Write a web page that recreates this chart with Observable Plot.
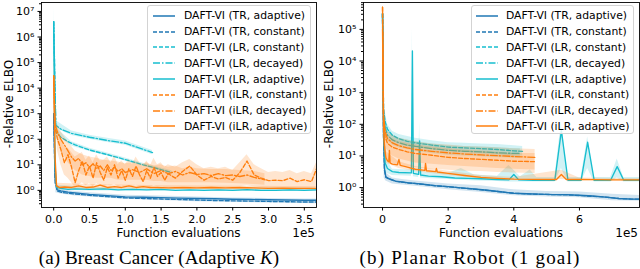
<!DOCTYPE html>
<html><head><meta charset="utf-8">
<script src="https://cdn.jsdelivr.net/npm/d3@7"></script>
<script src="https://cdn.jsdelivr.net/npm/@observablehq/plot@0.6"></script>
<style>
body{margin:0;background:#fff;}
#wrap{position:relative;width:640px;height:269px;font-family:"DejaVu Sans",sans-serif;color:#000;overflow:hidden;background:#fff}
.panel{position:absolute;top:0;width:320px;height:240px}
.lbl{position:absolute;font-size:12px;white-space:nowrap;line-height:12px}
.ylbl{position:absolute;font-size:12px;white-space:nowrap;line-height:12px;transform:translate(-50%,-50%) rotate(-90deg)}
.cap{position:absolute;font-family:"Liberation Serif",serif;font-size:19px;white-space:nowrap;transform:translate(-50%,-50%)}
.legend{position:absolute;box-sizing:border-box;border:1px solid #d3d3d3;border-radius:3px;background:rgba(255,255,255,0.85);font-size:10.8px;padding-top:2px}
.row{height:15.8px;display:flex;align-items:center;white-space:nowrap}
.row svg{flex:none}
</style></head>
<body><div id="wrap"></div>
<script>
// ---------- categories / legend ----------
const seriesNames = ["DAFT-VI (TR, adaptive)","DAFT-VI (TR, constant)","DAFT-VI (LR, constant)","DAFT-VI (LR, decayed)","DAFT-VI (LR, adaptive)","DAFT-VI (iLR, constant)","DAFT-VI (iLR, decayed)","DAFT-VI (iLR, adaptive)"];
const seriesColors = ["#1f77b4","#1f77b4","#17becf","#17becf","#17becf","#ff7f0e","#ff7f0e","#ff7f0e"];
const seriesStyles = ["solid","dashed","dashed","dashdot","solid","dashed","dashdot","solid"];
const captions = ["(a) Breast Cancer (Adaptive ", "(b) Planar Robot (1 goal)"];
const xLabel = "Function evaluations";
const yLabel = "-Relative ELBO";
const xOffsetLabel = "1e5";
const xTicksA = [0,0.5,1,1.5,2,2.5,3,3.5];
const xTicksB = [0,2,4,6];
const yDecadesA = [0,1,2,3,4,5,6,7];
const yDecadesB = [0,1,2,3,4,5];

// ---------- panel (a) data: [x (1e5 evals), value] ----------
const aTRadaptive = [[0,1e3],[0.02,3],[0.05,1.05],[0.1,0.95],[0.2,0.86],[0.3,0.8],[0.5,0.7],[0.75,0.62],[1.0,0.56],[1.25,0.54],[1.5,0.52],[1.75,0.5],[2.0,0.48],[2.25,0.47],[2.5,0.45],[2.75,0.44],[3.0,0.43],[3.25,0.42],[3.5,0.41],[3.67,0.41]];
const aTRconstant = [[0,1e3],[0.02,2],[0.05,0.95],[0.1,0.85],[0.2,0.77],[0.3,0.72],[0.5,0.64],[0.75,0.57],[1.0,0.51],[1.25,0.48],[1.5,0.46],[1.75,0.44],[2.0,0.42],[2.25,0.4],[2.5,0.39],[2.75,0.38],[3.0,0.37],[3.25,0.36],[3.5,0.35],[3.67,0.35]];
const aLRconstant = [[0,4e6],[0.03,200],[0.1,120],[0.2,80],[0.3,60],[0.5,38],[0.75,25],[1.0,16],[1.25,10],[1.5,6.5],[1.65,5]];
const aLRdecayed = [[0,4e6],[0.03,350],[0.1,250],[0.25,170],[0.5,120],[0.75,90],[1.0,70],[1.2,45],[1.38,30]];
const aLRadaptive = [[0,4e6],[0.02,8],[0.04,1.3],[0.1,1.2],[0.2,1.1],[0.3,1.15],[0.5,1.1],[0.7,1.15],[0.9,1.05],[1.1,1.1],[1.3,1.05],[1.5,1.1],[1.7,1.0],[1.9,1.05],[2.1,1.0],[2.3,1.05],[2.5,1.0],[2.7,1.07],[2.9,1.0],[3.1,1.0],[3.3,1.05],[3.5,1.0],[3.67,1.05]];
const aiLRconstant = [[0,3e4],[0.02,300],[0.05,110],[0.1,40],[0.15,12],[0.2,25],[0.25,8],[0.3,2],[0.35,6],[0.4,14],[0.45,4],[0.5,9],[0.55,3],[0.6,12],[0.65,5],[0.7,2.5],[0.75,8],[0.8,4],[0.85,10],[0.9,3],[0.95,6],[1.0,2.5],[1.05,7],[1.1,3.5],[1.15,9],[1.2,4],[1.25,2.2],[1.3,6],[1.35,3],[1.4,8],[1.45,3.5],[1.5,5],[1.55,2.5],[1.6,4.5],[1.7,3],[1.8,5.5],[1.9,9],[2.0,4],[2.1,2.5],[2.2,3.5],[2.3,2.8],[2.4,3.2],[2.5,2.5],[2.6,5],[2.7,14],[2.8,4],[2.9,3],[3.0,2.4],[3.1,2.5],[3.2,2.4],[3.3,3],[3.4,2.2],[3.5,2.6],[3.6,2.2],[3.67,7]];
const aiLRdecayed = [[0,3e4],[0.02,400],[0.05,200],[0.1,100],[0.15,60],[0.2,35],[0.25,20],[0.3,14],[0.35,18],[0.4,10],[0.45,12],[0.5,8],[0.55,11],[0.6,7],[0.65,9],[0.7,6],[0.75,10],[0.8,6],[0.85,8],[0.9,5.5],[0.95,7],[1.0,5],[1.1,6.5],[1.2,5],[1.3,7],[1.4,4.5],[1.5,6],[1.6,4.5],[1.7,5.5],[1.8,4],[1.9,5],[2.0,4.2],[2.1,4.5],[2.2,3.8],[2.3,4.5],[2.4,3.8],[2.5,4],[2.6,3.5],[2.7,4],[2.8,3.2],[2.9,2.8],[2.95,2.6]];
const aiLRadaptive = [[0,3e4],[0.02,20],[0.04,1.5],[0.08,1.3],[0.15,1.35],[0.25,1.3],[0.35,1.5],[0.45,1.3],[0.55,1.35],[0.65,1.6],[0.75,1.3],[0.85,1.4],[0.95,1.3],[1.05,1.5],[1.15,1.3],[1.25,1.4],[1.35,1.3],[1.45,1.3],[1.6,1.25],[1.8,1.3],[2.0,1.25],[2.2,1.3],[2.4,1.25],[2.6,1.3],[2.8,1.25],[3.0,1.2],[3.2,1.22],[3.4,1.2],[3.67,1.2]];

// ---------- panel (a) bands: [x, low, high] ----------
const aBandTR = [[0.03,0.8,1.3],[0.1,0.72,1.05],[0.3,0.6,0.9],[0.5,0.55,0.8],[1.0,0.45,0.65],[1.5,0.4,0.6],[2.0,0.36,0.55],[2.5,0.34,0.5],[3.0,0.32,0.48],[3.5,0.31,0.46],[3.67,0.3,0.46]];
const aBandLRconstant = [[0.05,150,260],[0.25,55,80],[0.5,33,44],[0.75,22,29],[1.0,14,18.5],[1.25,8.8,11.5],[1.5,5.7,7.5],[1.65,4.4,5.8]];
const aBandLRdecayed = [[0.05,250,500],[0.25,140,210],[0.5,100,145],[0.75,75,110],[1.0,58,85],[1.2,37,55],[1.38,25,36]];
const aBandLRadaptive = [[0,3e5,1.8e7],[0.02,3,30],[0.05,1.0,1.6],[0.5,0.95,1.3],[1.5,0.95,1.25],[2.5,0.9,1.2],[3.67,0.9,1.2]];
const aBandiLRconstant = [[0.05,40,300],[0.1,10,120],[0.15,4,50],[0.2,3,45],[0.25,2,30],[0.3,1.3,20],[0.35,1.5,25],[0.4,2,30],[0.45,1.5,15],[0.5,1.8,22],[0.55,1.4,12],[0.6,1.8,25],[0.65,1.5,14],[0.7,1.3,15],[0.75,1.6,20],[0.8,1.5,12],[0.85,1.7,22],[0.9,1.4,10],[0.95,1.5,14],[1.0,1.3,10],[1.05,1.5,16],[1.1,1.4,10],[1.15,1.6,20],[1.2,1.4,12],[1.25,1.3,8],[1.3,1.4,14],[1.35,1.3,9],[1.4,1.5,18],[1.45,1.4,10],[1.5,1.4,12],[1.55,1.3,8],[1.6,1.3,10],[1.7,1.3,8],[1.8,1.4,12],[1.9,1.3,16],[2.0,1.3,10],[2.1,1.3,7],[2.2,1.3,8],[2.3,1.3,7],[2.4,1.3,8],[2.5,1.3,6],[2.6,1.4,12],[2.7,1.5,25],[2.8,1.4,10],[2.9,1.3,7],[3.0,1.2,5],[3.1,1.2,5.5],[3.2,1.2,5],[3.3,1.2,6],[3.4,1.2,4.5],[3.5,1.2,5.5],[3.6,1.2,4.5],[3.67,1.3,12]];
const aBandiLRdecayed = [[0.05,80,400],[0.1,40,200],[0.2,12,80],[0.3,6,35],[0.4,4,25],[0.5,3.5,20],[0.6,3,18],[0.7,3,15],[0.8,3,14],[0.9,2.5,13],[1.0,2.5,11],[1.1,2.5,12],[1.2,2.5,10],[1.3,2.5,12],[1.4,2.2,9],[1.5,2.2,10],[1.6,2,8],[1.7,2,9],[1.8,2,7],[1.9,2,8],[2.0,2,7],[2.2,2,6.5],[2.4,1.9,6.5],[2.6,1.8,6],[2.8,1.7,5.5],[2.95,1.6,4.5]];
const aBandiLRadaptive = [[0,1e3,3e5],[0.02,3,100],[0.05,1.1,1.9],[0.5,1.1,1.7],[1.5,1.1,1.5],[2.5,1.05,1.45],[3.67,1.05,1.4]];

// ---------- panel (b) data ----------
const bTRadaptive = [[0,3e5],[0.03,50],[0.06,4],[0.1,2.2],[0.2,1.9],[0.4,1.6],[0.6,1.5],[0.8,1.4],[1.0,1.35],[1.3,1.25],[1.6,1.15],[2.0,1.07],[2.4,0.98],[2.8,0.9],[3.2,0.82],[3.6,0.74],[4.0,0.66],[4.4,0.64],[4.8,0.62],[5.2,0.6],[5.6,0.6],[6.0,0.57],[6.4,0.54],[6.8,0.5],[7.2,0.45],[7.6,0.43],[7.83,0.43]];
const bTRconstant = [[0,3e5],[0.03,40],[0.06,3.5],[0.1,2.1],[0.2,1.85],[0.4,1.58],[0.6,1.48],[0.8,1.39],[1.0,1.34],[1.3,1.24],[1.6,1.14],[2.0,1.06],[2.4,0.97],[2.8,0.89],[3.2,0.81],[3.6,0.73],[4.0,0.66],[4.4,0.63],[4.8,0.61],[5.2,0.6],[5.6,0.59],[6.0,0.56],[6.4,0.53],[6.8,0.5],[7.2,0.45],[7.6,0.43],[7.83,0.43]];
const bLRconstant = [[0,3.2e5],[0.03,300],[0.08,120],[0.15,70],[0.3,45],[0.5,35],[0.75,29],[1.0,26],[1.5,22],[2.0,19],[2.5,18],[3.0,17],[3.5,16],[4.0,14.5],[4.27,14]];
const bLRdecayed = [[0,3.2e5],[0.03,200],[0.08,80],[0.15,45],[0.3,32],[0.5,26],[0.75,22],[1.0,20],[1.5,17],[2.0,15],[2.5,14],[3.0,13.5],[3.5,12.5],[4.0,12],[4.2,12]];
const bLRadaptive = [[0,3.2e5],[0.03,100],[0.08,6],[0.15,4],[0.3,3.2],[0.5,3.0],[0.88,2.9],[0.91,2.1e4],[0.94,2.8],[1.1,2.6],[1.13,30],[1.16,2.5],[1.4,2.3],[1.8,2.2],[2.2,2.0],[2.6,1.95],[3.0,1.9],[3.5,1.8],[3.85,1.75],[4.0,2.6],[4.15,1.75],[4.6,1.7],[5.25,1.7],[5.45,63],[5.65,1.7],[6.05,1.7],[6.25,27],[6.45,1.7],[6.95,1.7],[7.15,4.6],[7.35,1.7],[7.83,1.7]];
const biLRconstant = [[0,5e5],[0.03,150],[0.08,40],[0.15,25],[0.3,19],[0.5,16],[0.75,13.5],[1.0,12],[1.5,10.5],[2.0,9],[2.5,8.3],[3.0,7.8],[3.5,7.3],[4.0,6.8],[4.65,6.6]];
const biLRdecayed = [[0,5e5],[0.03,200],[0.08,60],[0.15,35],[0.3,26],[0.5,21],[0.75,18],[1.0,16],[1.5,14],[2.0,12.5],[2.5,11.5],[3.0,10.8],[3.5,10.2],[4.0,9.6],[4.65,9]];
const biLRadaptive = [[0,1e5],[0.03,80],[0.06,20],[0.1,9],[0.15,7],[0.19,6.5],[0.21,15],[0.23,6],[0.3,5.5],[0.45,5.2],[0.5,7.8],[0.54,5],[0.7,4.6],[1.0,3.8],[1.29,3.5],[1.31,5.8],[1.34,3.4],[1.62,3.2],[1.64,4.0],[1.67,3.1],[2.0,2.8],[2.5,2.4],[3.0,2.1],[3.5,1.95],[4.0,1.85],[4.5,1.82],[5.3,1.8],[5.45,2.6],[5.6,1.8],[6.0,1.8],[6.5,1.78],[7.0,1.76],[7.83,1.75]];

// ---------- panel (b) bands ----------
const bBandTR = [[0.05,2,8],[0.1,1.6,3],[0.3,1.3,2.0],[0.6,1.2,1.8],[1.0,1.1,1.6],[2.0,0.85,1.3],[3.0,0.7,1.15],[4.0,0.55,0.85],[5.0,0.5,0.75],[6.0,0.48,0.72],[7.0,0.38,0.62],[7.83,0.37,0.56]];
const bBandLRconstant = [[0.05,100,400],[0.15,50,100],[0.3,33,60],[0.5,26,48],[1.0,19,36],[1.5,16,30],[2.0,14,26],[2.5,13,25],[3.0,12,24],[3.5,11,23],[4.0,10,21],[4.27,10,20]];
const bBandLRdecayed = [[0.05,60,300],[0.15,30,65],[0.3,22,45],[0.5,18,36],[1.0,14,28],[1.5,12,24],[2.0,10.5,21],[2.5,10,20],[3.0,9.5,19],[3.5,9,18],[4.0,8.5,17],[4.2,8.5,17]];
const bBandLRadaptive = [[0,1e5,5e5],[0.03,20,300],[0.08,3,10],[0.3,2.4,3.8],[0.88,2.3,3.6],[0.91,50,1.1e5],[0.94,2.2,3.5],[1.1,2.1,3.3],[1.13,5,115],[1.16,2,3.2],[1.5,1.9,3],[2.0,1.8,2.8],[2.4,1.7,4],[2.8,1.6,2.5],[3.5,1.55,2.3],[3.85,1.5,5],[4.0,1.5,3.5],[4.2,1.5,2.2],[4.5,1.5,3.6],[4.7,1.5,2.1],[5.25,1.5,2.1],[5.45,4,120],[5.65,1.5,2.1],[6.05,1.5,2.1],[6.25,4,40],[6.45,1.5,2.1],[6.95,1.5,2.1],[7.15,2,8],[7.35,1.5,2.1],[7.83,1.5,2.1]];
const bBandiLRconstant = [[0.05,12,100],[0.15,8,45],[0.3,6,35],[0.5,5,28],[1.0,4.2,22],[1.5,3.8,19],[2.0,3.5,17],[2.5,3.3,15],[3.0,3.2,14],[3.5,3,13],[4.0,2.9,12],[4.65,2.8,12]];
const bBandiLRdecayed = [[0.05,20,150],[0.15,15,60],[0.3,10,45],[0.5,8,36],[1.0,6,28],[1.5,5.5,24],[2.0,5,22],[2.5,4.6,20],[3.0,4.3,19],[3.5,4,18],[4.0,3.8,17],[4.65,3.6,16]];
const bBandiLRadaptive = [[0,3e4,7e5],[0.03,30,300],[0.1,6,14],[0.5,4,6.5],[1.0,3.2,4.6],[2.0,2.4,3.3],[3.0,1.9,2.4],[4.0,1.7,2.1],[5.45,1.8,3.5],[6.0,1.65,2.0],[7.83,1.6,1.9]];

const panelA = {
  left: 0, xDomain: [-0.17, 3.67], yDomain: [10**-0.67, 10**7.35], xTicks: xTicksA, xFmt: d => d.toFixed(1), decades: yDecadesA,
  marginLeft: 41, marginRight: 4,
  lines: [aTRadaptive,aTRconstant,aLRconstant,aLRdecayed,aLRadaptive,aiLRconstant,aiLRdecayed,aiLRadaptive],
  bands: [aBandTR,null,aBandLRconstant,aBandLRdecayed,aBandLRadaptive,aBandiLRconstant,aBandiLRdecayed,aBandiLRadaptive],
  legend: {left:147, width:164, sx:5, tx:36}, cap: captions[0], capItalic: "K", capX: 159, capSpacing: "0.1px", yLblX: 9
};
const panelB = {
  left: 320, xDomain: [-0.58, 7.83], yDomain: [10**-0.63, 10**5.85], xTicks: xTicksB, xFmt: d => String(d), decades: yDecadesB,
  marginLeft: 43, marginRight: 1,
  lines: [bTRadaptive,bTRconstant,bLRconstant,bLRdecayed,bLRadaptive,biLRconstant,biLRdecayed,biLRadaptive],
  bands: [bBandTR,null,bBandLRconstant,bBandLRdecayed,bBandLRadaptive,bBandiLRconstant,bBandiLRdecayed,bBandiLRadaptive],
  legend: {left:471, width:163, sx:4, tx:34}, cap: captions[1], capItalic: "", capX: 470, capSpacing: "1.2px", yLblX: 329
};

const dashes = {solid: null, dashed: "4,2", dashdot: "7,2,1.5,2"};
const supMap = {"0":"⁰","1":"¹","2":"²","3":"³","4":"⁴","5":"⁵","6":"⁶","7":"⁷","8":"⁸","9":"⁹","-":"⁻"};
const sup = e => "10" + String(e).split("").map(c => supMap[c]).join("");

const wrap = document.getElementById("wrap");

function build(p) {
  const W = 320, H = 240;
  const majors = p.decades.map(e => 10 ** e);
  const minors = [];
  for (let e = -1; e <= p.decades[p.decades.length-1]; e++) for (let k = 2; k <= 9; k++) {
    const v = k * 10 ** e; if (v >= p.yDomain[0] && v <= p.yDomain[1]) minors.push(v);
  }
  const marks = [];
  p.lines.forEach((data, i) => {
    const band = p.bands[i];
    if (band) marks.push(Plot.areaY(band, {x: d => d[0], y1: d => d[1], y2: d => d[2], fill: seriesColors[i], fillOpacity: 0.2, clip: true}));
    marks.push(Plot.line(data, {x: d => d[0], y: d => d[1], stroke: seriesColors[i], strokeWidth: 1.35,
      strokeDasharray: dashes[seriesStyles[i]], clip: true}));
  });
  marks.push(Plot.axisY({ticks: minors, tickSize: 2, tickFormat: () => "", label: null}));
  marks.push(Plot.axisY({ticks: majors, tickSize: 3.5, tickPadding: 3.5, tickFormat: d => sup(Math.round(Math.log10(d))), label: null}));
  marks.push(Plot.axisX({ticks: p.xTicks, tickSize: 3.5, tickPadding: 4, tickFormat: p.xFmt, label: null}));
  marks.push(Plot.frame({stroke: "#000", strokeWidth: 0.9}));
  const svg = Plot.plot({
    width: W, height: H, marginLeft: p.marginLeft, marginRight: p.marginRight, marginTop: 2, marginBottom: 33,
    x: {domain: p.xDomain, label: null},
    y: {type: "log", domain: p.yDomain, label: null},
    style: {fontFamily: "DejaVu Sans", fontSize: "11px", background: "transparent", color: "#000"},
    marks
  });
  const holder = document.createElement("div");
  holder.className = "panel"; holder.style.left = p.left + "px";
  holder.appendChild(svg);
  wrap.appendChild(holder);

  const fl = p.left + p.marginLeft, fr = p.left + W - p.marginRight;
  const xl = document.createElement("div"); xl.className = "lbl"; xl.textContent = xLabel;
  xl.style.top = "226.5px"; xl.style.left = ((fl + fr) / 2) + "px"; xl.style.transform = "translateX(-50%)";
  wrap.appendChild(xl);
  const ol = document.createElement("div"); ol.className = "lbl"; ol.textContent = xOffsetLabel;
  ol.style.top = "226.5px"; ol.style.left = (fr - 1) + "px"; ol.style.transform = "translateX(-100%)";
  wrap.appendChild(ol);
  const yl = document.createElement("div"); yl.className = "ylbl"; yl.textContent = yLabel;
  yl.style.left = p.yLblX + "px"; yl.style.top = "104px";
  wrap.appendChild(yl);
  const cap = document.createElement("div"); cap.className = "cap";
  cap.textContent = p.cap; cap.style.letterSpacing = p.capSpacing;
  if (p.capItalic) { const it = document.createElement("i"); it.textContent = p.capItalic; cap.appendChild(it); cap.appendChild(document.createTextNode(")")); }
  cap.style.left = p.capX + "px"; cap.style.top = "258px";
  wrap.appendChild(cap);

  const lg = document.createElement("div"); lg.className = "legend";
  lg.style.left = p.legend.left + "px"; lg.style.top = "5px"; lg.style.width = p.legend.width + "px"; lg.style.height = "129px";
  seriesNames.forEach((name, i) => {
    const row = document.createElement("div"); row.className = "row";
    const ns = "http://www.w3.org/2000/svg";
    const s = document.createElementNS(ns, "svg"); s.setAttribute("width", p.legend.tx); s.setAttribute("height", 10);
    const ln = document.createElementNS(ns, "line");
    ln.setAttribute("x1", p.legend.sx); ln.setAttribute("x2", p.legend.sx + 22); ln.setAttribute("y1", 5); ln.setAttribute("y2", 5);
    ln.setAttribute("stroke", seriesColors[i]); ln.setAttribute("stroke-width", 1.5);
    if (dashes[seriesStyles[i]]) ln.setAttribute("stroke-dasharray", dashes[seriesStyles[i]]);
    s.appendChild(ln); row.appendChild(s);
    const t = document.createElement("span"); t.textContent = name; row.appendChild(t);
    lg.appendChild(row);
  });
  wrap.appendChild(lg);
}
build(panelA);
build(panelB);
</script></body></html>
